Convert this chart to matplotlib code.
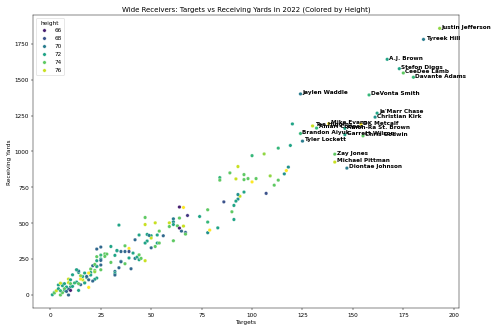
import matplotlib
matplotlib.use("Agg")
import matplotlib.pyplot as plt
import pandas as pd
import seaborn as sns

# labelled receivers (targets, receiving yards, height in inches)
names = ["Justin Jefferson", "Tyreek Hill", "A.J. Brown", "Stefon Diggs", "CeeDee Lamb",
         "Davante Adams", "Jaylen Waddle", "DeVonta Smith", "Ja'Marr Chase", "Christian Kirk",
         "Mike Evans", "DK Metcalf", "Tee Higgins", "Amari Cooper", "Amon-Ra St. Brown",
         "Brandon Aiyuk", "Garrett Wilson", "Chris Godwin", "Tyler Lockett", "Zay Jones",
         "Michael Pittman", "Diontae Johnson"]
named_targets = [193, 185, 167, 173, 175, 180, 124, 158, 162, 161,
                 138, 154, 130, 132, 146, 124, 146, 155, 125, 141, 141, 147]
named_yards = [1858, 1781, 1642, 1577, 1547, 1517, 1401, 1394, 1267, 1239,
               1194, 1190, 1178, 1163, 1161, 1125, 1117, 1109, 1072, 981, 926, 884]
named_height = [75, 70, 72, 72, 74, 73, 70, 73, 72, 71,
                77, 77, 76, 73, 72, 73, 72, 74, 70, 74, 76, 70]

# everyone else
other_targets = [120, 119, 113, 106, 100, 93, 118, 117, 116, 89, 96, 84, 84, 92, 96, 98, 102,
                 100, 109, 113, 111, 107, 96, 94, 93, 93, 92, 86, 91, 90, 91, 83, 78, 78, 74,
                 78, 79, 64, 66, 68, 64, 61, 61, 61, 52, 59, 59, 63, 66, 64, 65, 67, 67, 54,
                 53, 56, 50, 50, 61, 53, 54, 52, 50,
                 47, 47, 34, 44, 48, 49, 42, 48, 47, 37, 30, 39, 35, 37, 33, 39, 41, 42, 43,
                 44, 44, 45, 47, 40, 37, 39, 35, 35, 34, 32, 32, 32, 33, 32, 27, 28, 30, 27,
                 25, 25, 25, 23, 23, 25, 23, 25, 23, 21, 20, 20, 22, 23, 25, 23, 22, 20, 18,
                 19, 22, 17, 14, 13, 14, 16, 18, 16, 17, 15, 19, 15, 13, 14, 17, 21, 12, 15,
                 9, 9, 10, 10, 10, 11, 9, 10, 14, 9, 6, 8, 7, 6, 7, 4, 5, 2, 1, 2, 5, 3, 6,
                 7, 4, 5, 8, 13, 19, 11, 22]
other_yards = [1192, 1042, 1023, 983, 971, 895, 891, 867, 844, 851, 839, 818, 800, 809, 804,
               811, 811, 788, 830, 800, 765, 708, 717, 688, 700, 668, 654, 649, 624, 580, 526,
               468, 508, 594, 547, 434, 452, 613, 610, 554, 536, 531, 510, 491, 503, 503, 477,
               482, 480, 466, 445, 436, 424, 445, 418, 413, 413, 397, 378, 362, 362, 338, 329,
               540, 491, 487, 418, 422, 415, 385, 376, 362, 343, 338, 324, 303, 303, 308, 303,
               292, 255, 264, 280, 246, 255, 239, 183, 218, 258, 234, 232, 190, 164, 150, 139,
               310, 276, 287, 285, 227, 269, 251, 241, 209, 239, 267, 278, 320, 334, 199, 204,
               157, 181, 171, 118, 176, 199, 162, 139, 122, 106, 109, 153, 157, 176, 167, 129,
               129, 106, 88, 111, 53, 72, 90, 79, 84, 97, 84, 134, 86, 111, 79, 106, 56, 60,
               42, 32, 32, 0, 74, 56, 32, 65, 79, 70, 82, 18, 2, 14, 0, 30, 16, 44, 44, 30,
               25, 176, 153, 141, 213]
other_height = [72, 72, 73, 75, 73, 76, 71, 77, 71, 74, 74, 73, 74, 76, 74, 74, 74, 77, 75,
                74, 74, 68, 72, 76, 71, 71, 72, 68, 72, 74, 72, 72, 73, 74, 72, 71, 77, 66, 77,
                67, 74, 70, 71, 72, 76, 76, 74, 74, 76, 66, 69, 69, 74, 74, 72, 69, 72, 76, 74,
                72, 74, 74, 69,
                74, 76, 72, 72, 72, 70, 69, 72, 72, 74, 72, 77, 69, 69, 70, 68, 72, 70, 72, 74,
                72, 74, 76, 69, 74, 72, 72, 69, 69, 70, 72, 69, 72, 72, 74, 74, 74, 74, 72, 69,
                69, 72, 74, 73, 69, 69, 70, 69, 72, 74, 74, 72, 74, 72, 75, 72, 72, 69, 72, 72,
                72, 69, 70, 72, 69, 76, 76, 77, 77, 69, 72, 74, 72, 69, 73, 75, 76, 76, 74, 72,
                72, 72, 69, 66, 72, 69, 72, 72, 72, 72, 72, 72, 76, 72, 72, 74, 74, 76, 74, 74,
                72, 73, 69, 72, 77, 72, 74]

df = pd.DataFrame({
    "targets": named_targets + other_targets,
    "yards": named_yards + other_yards,
    "height": named_height + other_height,
})

DPI = 500 / 12
fig = plt.figure(figsize=(12, 8), dpi=DPI)
ax = fig.add_subplot(111)
fig.subplots_adjust(left=0.066, right=0.918, bottom=0.074, top=0.954)

sns.scatterplot(data=df, x="targets", y="yards", hue="height", palette="viridis",
                hue_norm=(65, 77), ax=ax)

for name, x, y in zip(names, named_targets, named_yards):
    ax.text(x + 1, y, name, fontsize=10, weight="bold", color="black")

ax.set_title("Wide Receivers: Targets vs Receiving Yards in 2022 (Colored by Height)")
ax.set_xlabel("Targets")
ax.set_ylabel("Receiving Yards")
ax.legend(title="height", loc="upper left")

fig.savefig("out.png", dpi=DPI)
